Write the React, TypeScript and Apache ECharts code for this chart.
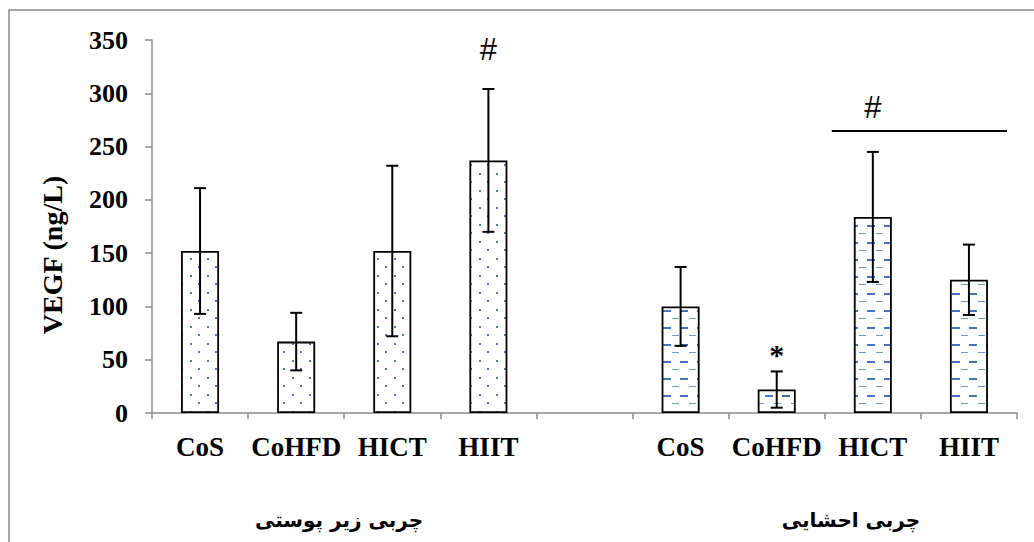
import React, { useEffect, useRef } from "react";
import * as echarts from "echarts";

// ---------- data ----------
const categories = ["CoS", "CoHFD", "HICT", "HIIT", "", "CoS", "CoHFD", "HICT", "HIIT"];
const subValues = [152, 67, 152, 237];
const subErrors = [59, 27, 80, 67];
const visValues = [100, 22, 184, 125];
const visErrors = [37, 17, 61, 33];
const subIndex = [0, 1, 2, 3];
const visIndex = [5, 6, 7, 8];
const annotCats = [3, 6, 7];
const annotVals = [341, 55, 287];
const annotTexts = ["#", "*", "#"];
const bracket = [7, 8, 264.6];
const groupLabels = ["چربی زیر پوستی", "چربی احشایی"];
const yName = "VEGF (ng/L)";

function makeDots(): HTMLCanvasElement {
  const c = document.createElement("canvas");
  c.width = 17;
  c.height = 17;
  const ctx = c.getContext("2d")!;
  ctx.fillStyle = "#ffffff";
  ctx.fillRect(0, 0, 17, 17);
  ctx.fillStyle = "#4a78c6";
  ctx.fillRect(3, 3, 2, 2);
  ctx.fillRect(11, 11, 2, 2);
  return c;
}

function makeDashes(): HTMLCanvasElement {
  const c = document.createElement("canvas");
  c.width = 17;
  c.height = 17;
  const ctx = c.getContext("2d")!;
  ctx.fillStyle = "#ffffff";
  ctx.fillRect(0, 0, 17, 17);
  ctx.fillStyle = "#4472c4";
  ctx.fillRect(0, 4, 8, 2);
  ctx.fillStyle = "#6f95d4";
  ctx.fillRect(9, 12, 7, 1);
  return c;
}

export default function App() {
  const ref = useRef<HTMLDivElement>(null);
  useEffect(() => {
    if (!ref.current) return;
    const chart = echarts.init(ref.current, null, { renderer: "svg" });
    const dots = makeDots();
    const dashes = makeDashes();
    const dotPattern = { image: dots, repeat: "repeat", imageWidth: 17, imageHeight: 17 };
    const dashPattern = { image: dashes, repeat: "repeat", imageWidth: 17, imageHeight: 17 };

    const barData: any[] = categories.map(() => "-");
    subIndex.forEach((ci, k) => {
      barData[ci] = { value: subValues[k], itemStyle: { color: dotPattern } };
    });
    visIndex.forEach((ci, k) => {
      barData[ci] = { value: visValues[k], itemStyle: { color: dashPattern } };
    });

    const errData: number[][] = [];
    subIndex.forEach((ci, k) => errData.push([ci, subValues[k], subErrors[k]]));
    visIndex.forEach((ci, k) => errData.push([ci, visValues[k], visErrors[k]]));

    const annotData = annotCats.map((c, k) => [c, annotVals[k]]);

    const serif = '"Liberation Serif", "Times New Roman", serif';
    const gray = "#8c8c8c";

    chart.setOption({
      animation: false,
      backgroundColor: "#ffffff",
      grid: { left: 152, right: 17, top: 40, bottom: 129, containLabel: false },
      xAxis: {
        type: "category",
        data: categories,
        boundaryGap: true,
        axisLine: { show: true, lineStyle: { color: gray, width: 1.5 } },
        axisTick: { show: true, interval: 0, length: 6, alignWithLabel: false, lineStyle: { color: gray, width: 1.5 } },
        axisLabel: {
          interval: 0,
          margin: 20,
          color: "#000",
          fontFamily: serif,
          fontWeight: "bold",
          fontSize: 27,
        },
        splitLine: { show: false },
      },
      yAxis: {
        type: "value",
        min: 0,
        max: 350,
        interval: 50,
        axisLine: { show: true, lineStyle: { color: gray, width: 1.5 } },
        axisTick: { show: true, length: 7, lineStyle: { color: gray, width: 1.5 } },
        axisLabel: {
          margin: 24,
          color: "#000",
          fontFamily: serif,
          fontWeight: "bold",
          fontSize: 26,
        },
        splitLine: { show: false },
      },
      series: [
        {
          type: "bar",
          data: barData,
          barWidth: 38,
          itemStyle: { borderColor: "#000", borderWidth: 1.8 },
          z: 2,
        },
        {
          type: "custom",
          data: errData,
          encode: { x: 0, y: 1 },
          z: 3,
          renderItem: (params: any, api: any) => {
            const i = api.value(0);
            const v = api.value(1);
            const e = api.value(2);
            const top = api.coord([i, v + e]);
            const bot = api.coord([i, v - e]);
            const h = 6;
            const st = { stroke: "#000", lineWidth: 2 };
            return {
              type: "group",
              children: [
                { type: "line", shape: { x1: top[0], y1: top[1], x2: bot[0], y2: bot[1] }, style: st },
                { type: "line", shape: { x1: top[0] - h, y1: top[1], x2: top[0] + h, y2: top[1] }, style: st },
                { type: "line", shape: { x1: bot[0] - h, y1: bot[1], x2: bot[0] + h, y2: bot[1] }, style: st },
              ],
            };
          },
        },
        {
          type: "custom",
          data: annotData,
          encode: { x: 0, y: 1 },
          z: 4,
          renderItem: (params: any, api: any) => {
            const p = api.coord([api.value(0), api.value(1)]);
            const t = annotTexts[params.dataIndex];
            const isStar = t === "*";
            return {
              type: "text",
              x: p[0],
              y: p[1],
              style: {
                text: t,
                fill: "#000",
                font: isStar ? 'bold 30px "Liberation Serif"' : '31px "Liberation Sans"',
                textAlign: "center",
                textVerticalAlign: "middle",
              },
            };
          },
        },
        {
          type: "custom",
          data: [bracket],
          encode: { x: 0, y: 2 },
          z: 4,
          renderItem: (params: any, api: any) => {
            const band = api.size([1, 0])[0];
            const a = api.coord([api.value(0), api.value(2)]);
            const b = api.coord([api.value(1), api.value(2)]);
            return {
              type: "line",
              shape: { x1: a[0] - band * 0.427, y1: a[1], x2: b[0] + band * 0.396, y2: b[1] },
              style: { stroke: "#000", lineWidth: 2 },
            };
          },
        },
      ],
      graphic: [
        {
          type: "rect",
          silent: true,
          z: -10,
          shape: { x: 9, y: 10, width: 1100, height: 600 },
          style: { fill: "none", stroke: gray, lineWidth: 1.5 },
        },
        {
          type: "text",
          x: 52,
          y: 255,
          rotation: Math.PI / 2,
          style: {
            text: yName,
            fill: "#000",
            font: 'bold 28px "Liberation Serif"',
            textAlign: "center",
            textVerticalAlign: "middle",
          },
        },
        {
          type: "text",
          x: 339,
          y: 520,
          style: {
            text: groupLabels[0],
            fill: "#000",
            font: 'bold 20px "DejaVu Sans"',
            textAlign: "center",
            textVerticalAlign: "middle",
          },
        },
        {
          type: "text",
          x: 851,
          y: 520,
          style: {
            text: groupLabels[1],
            fill: "#000",
            font: 'bold 20px "DejaVu Sans"',
            textAlign: "center",
            textVerticalAlign: "middle",
          },
        },
      ],
    });
    return () => chart.dispose();
  }, []);
  return (
    <div
      ref={ref}
      style={{ position: "fixed", left: 0, top: 0, width: 1034, height: 542, background: "#fff" }}
    />
  );
}
